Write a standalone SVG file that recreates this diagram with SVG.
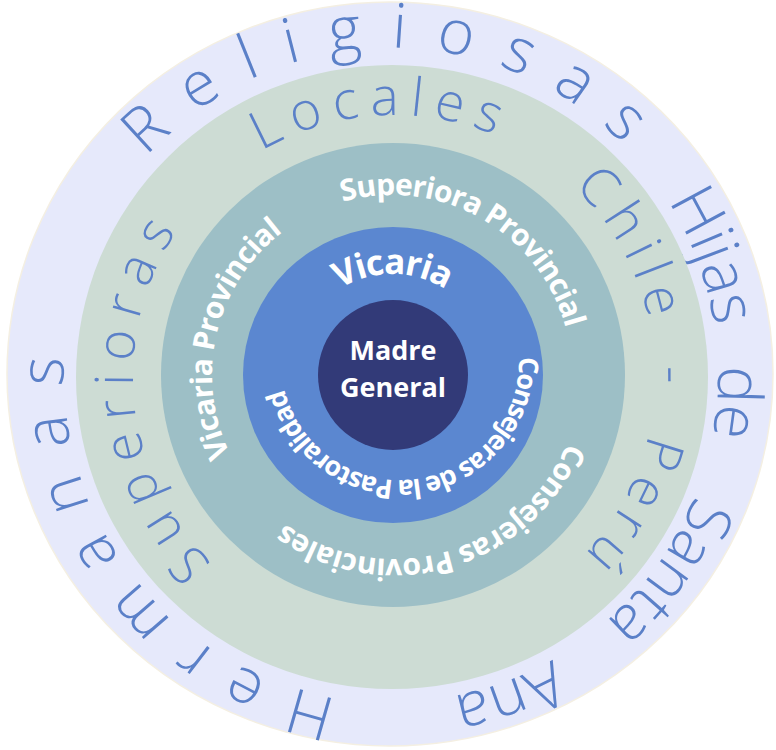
<svg xmlns="http://www.w3.org/2000/svg" width="776" height="750" viewBox="0 0 776 750">
  <style>
    .lt { font-family: "Open Sans", "Liberation Sans", sans-serif; font-weight: 300; fill: #5b80c8; text-anchor: middle; }
    .bd { font-family: "Open Sans", "Liberation Sans", sans-serif; font-weight: 700; fill: #ffffff; text-anchor: middle; }
    .o { font-size: 62px; }
    .g { font-size: 53px; }
    .t { font-size: 30px; }
  </style>
  <defs>
    <path id="p-outer" d="M391,702 A327,327 0 1 1 391,48 A327,327 0 1 1 391,702"/>
    <path id="p-green" d="M394,637 A261,261 0 1 1 394,115 A261,261 0 1 1 394,637"/>
    <path id="p-teal1" d="M392,555 A180,180 0 1 1 392,195 A180,180 0 1 1 392,555"/>
    <path id="p-teal2" d="M394,185 A187,187 0 1 1 394,559 A187,187 0 1 1 394,185"/>
    <path id="p-vic" d="M392,476 A101,101 0 1 1 392,274 A101,101 0 1 1 392,476"/>
    <path id="p-cons" d="M400,242 A119,119 0 1 1 400,480 A119,119 0 1 1 400,242"/>
  </defs>
  <rect width="776" height="750" fill="#ffffff"/>

  <g id="ring-hermanas">
    <ellipse cx="390" cy="374" rx="383" ry="372" fill="#e6e9fb" stroke="#f4efe2" stroke-width="1.5"/>
    <text class="lt o" letter-spacing="30"><textPath href="#p-outer" startOffset="307.3" textLength="507" lengthAdjust="spacing">Hermanas</textPath></text>
    <text class="lt o" letter-spacing="30"><textPath href="#p-outer" startOffset="1032.7" textLength="563" lengthAdjust="spacing">Religiosas</textPath></text>
    <text class="lt o"><textPath href="#p-outer" startOffset="1424.2">Hijas</textPath></text>
    <text class="lt o"><textPath href="#p-outer" startOffset="1566.6">de</textPath></text>
    <text class="lt o"><textPath href="#p-outer" startOffset="1741.8">Santa</textPath></text>
    <text class="lt o"><textPath href="#p-outer" startOffset="1938.1">Ana</textPath></text>
  </g>

  <g id="ring-superioras-locales">
    <ellipse cx="392" cy="377" rx="316" ry="312" fill="#cddcd4"/>
    <text class="lt g" letter-spacing="12"><textPath href="#p-green" startOffset="387.6" textLength="374" lengthAdjust="spacing">Superioras</textPath></text>
    <text class="lt g" letter-spacing="12"><textPath href="#p-green" startOffset="807.6" textLength="254" lengthAdjust="spacing">Locales</textPath></text>
    <text class="lt g" letter-spacing="10"><textPath href="#p-green" startOffset="1099.4" textLength="164" lengthAdjust="spacing">Chile</textPath></text>
    <text class="lt g"><textPath href="#p-green" startOffset="1228.1">-</textPath></text>
    <text class="lt g" letter-spacing="10"><textPath href="#p-green" startOffset="1362" textLength="148" lengthAdjust="spacing">Perú</textPath></text>
  </g>

  <g id="ring-provincial">
    <circle cx="393" cy="375" r="232" fill="#9dbfc6"/>
    <text class="bd t"><textPath href="#p-teal1" startOffset="324.4" textLength="247.5" lengthAdjust="spacing">Vicaria Provincial</textPath></text>
    <text class="bd t"><textPath href="#p-teal1" startOffset="657.9" textLength="285.3" lengthAdjust="spacing">Superiora Provincial</textPath></text>
    <text class="bd t"><textPath href="#p-teal2" startOffset="535" textLength="338" lengthAdjust="spacing">Consejeras Provinciales</textPath></text>
  </g>

  <g id="ring-vicaria">
    <ellipse cx="393" cy="375" rx="150" ry="148" fill="#5b87d0"/>
    <text class="bd" font-size="35"><textPath href="#p-vic" startOffset="317.6" textLength="112" lengthAdjust="spacing">Vicaria</textPath></text>
    <text class="bd" font-size="27"><textPath href="#p-cons" startOffset="357.6" textLength="350" lengthAdjust="spacing">Consejeras de la Pastoralidad</textPath></text>
  </g>

  <g id="node-madre-general">
    <circle cx="393" cy="375" r="75" fill="#323a78"/>
    <text class="bd" font-size="27" x="393" y="360">Madre</text>
    <text class="bd" font-size="27" x="393" y="397">General</text>
  </g>

  <g id="connectors"/>
</svg>
